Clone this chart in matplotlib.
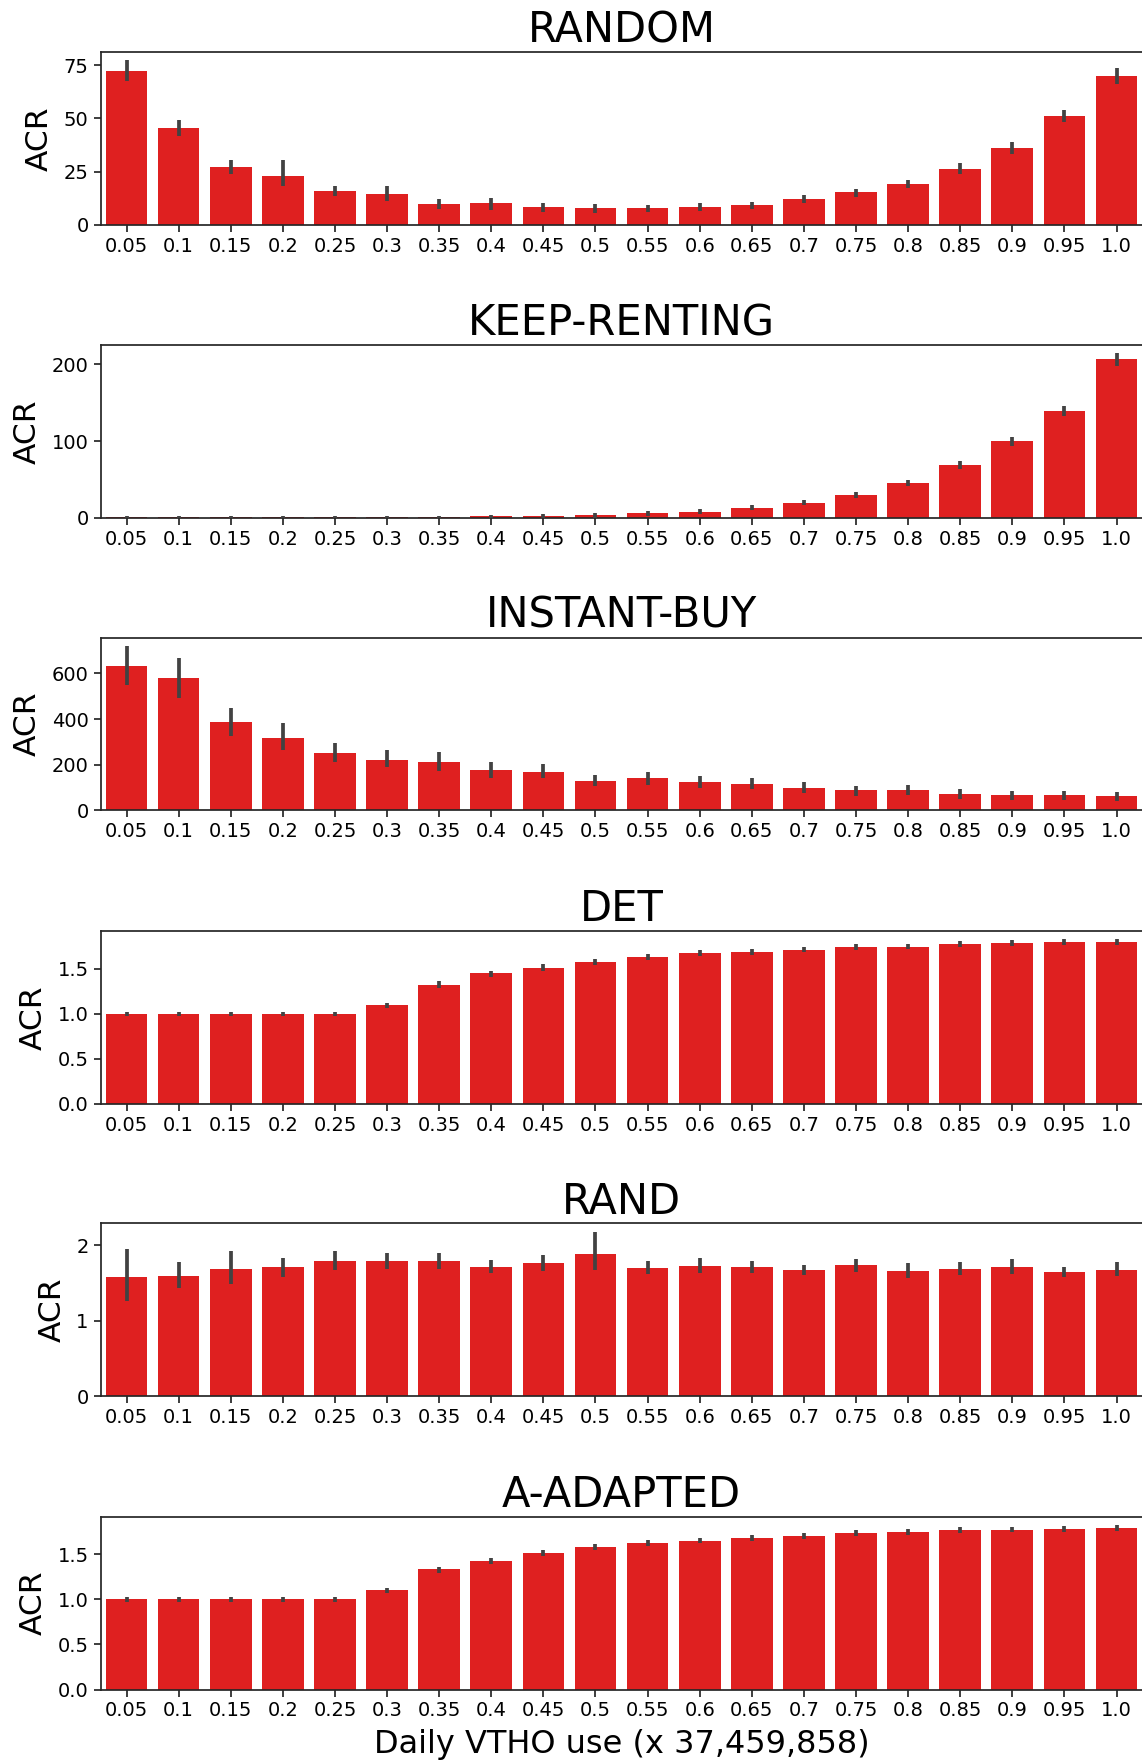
import matplotlib
matplotlib.use("Agg")
import matplotlib.pyplot as plt
import numpy as np

categories = ["0.05", "0.1", "0.15", "0.2", "0.25", "0.3", "0.35", "0.4", "0.45", "0.5",
              "0.55", "0.6", "0.65", "0.7", "0.75", "0.8", "0.85", "0.9", "0.95", "1.0"]

titles = ["RANDOM", "KEEP-RENTING", "INSTANT-BUY", "DET", "RAND", "A-ADAPTED"]

random_mean = [72.4, 45.4, 27.3, 23.1, 16.1, 14.7, 9.6, 10.1, 8.2, 7.75,
               7.75, 8.2, 9.1, 11.9, 15.2, 19.4, 26.4, 36.1, 51.0, 70.1]
random_lo = [67.6, 41.9, 23.9, 18.1, 13.5, 11.2, 7.3, 7.1, 6.2, 5.7,
             5.9, 6.5, 7.3, 10.1, 13.3, 17.4, 24.0, 33.3, 48.2, 66.2]
random_hi = [77.4, 49.3, 30.4, 30.4, 18.4, 18.4, 12.2, 12.7, 10.4, 9.6,
             9.3, 10.1, 10.9, 13.8, 16.9, 21.1, 29.0, 38.9, 54.1, 73.8]

keep_mean = [0.4, 0.4, 0.5, 0.5, 0.6, 0.7, 0.9, 1.7, 1.9, 3.0,
             6.0, 8.2, 13.3, 19.8, 30.1, 45.6, 68.8, 99.8, 139.8, 206.9]
keep_lo = [0.0, 0.0, 0.0, 0.0, 0.0, 0.0, 0.0, 0.0, 0.0, 0.3,
           1.9, 5.2, 9.9, 16.3, 26.2, 40.9, 64.1, 94.2, 132.5, 197.8]
keep_hi = [2.0, 2.0, 2.2, 2.2, 2.4, 2.5, 2.8, 4.3, 4.5, 6.5,
           8.6, 11.6, 16.8, 23.7, 33.5, 49.5, 73.5, 104.9, 145.8, 214.6]

instant_mean = [634, 578, 387, 318, 253, 222, 214, 175, 170, 131,
                140, 123, 118, 97, 88, 88, 71, 66, 66, 62]
instant_lo = [550, 491, 325, 264, 214, 189, 173, 144, 140, 107,
              111, 100, 92, 75, 65, 68, 49, 48, 46, 42]
instant_hi = [720, 667, 448, 384, 297, 264, 257, 212, 204, 157,
              169, 152, 143, 123, 108, 111, 92, 85, 84, 79]

det_mean = [1.0, 1.0, 1.0, 1.0, 1.0, 1.096, 1.324, 1.449, 1.515, 1.581,
            1.636, 1.68, 1.691, 1.713, 1.746, 1.746, 1.779, 1.79, 1.80, 1.80]
det_lo = [0.975, 0.975, 0.975, 0.975, 0.975, 1.066, 1.29, 1.41, 1.48, 1.544,
          1.60, 1.643, 1.658, 1.684, 1.71, 1.717, 1.743, 1.754, 1.768, 1.768]
det_hi = [1.025, 1.025, 1.025, 1.025, 1.025, 1.125, 1.36, 1.48, 1.55, 1.61,
          1.67, 1.71, 1.724, 1.746, 1.78, 1.78, 1.81, 1.82, 1.83, 1.83]

rand_mean = [1.576, 1.59, 1.681, 1.707, 1.786, 1.786, 1.786, 1.707, 1.76, 1.878,
             1.694, 1.72, 1.707, 1.668, 1.734, 1.655, 1.681, 1.707, 1.642, 1.668]
rand_lo = [1.262, 1.437, 1.48, 1.576, 1.672, 1.686, 1.68, 1.633, 1.66, 1.672,
           1.616, 1.629, 1.629, 1.603, 1.646, 1.568, 1.603, 1.62, 1.581, 1.59]
rand_hi = [1.948, 1.773, 1.917, 1.834, 1.917, 1.89, 1.89, 1.808, 1.873, 2.179,
           1.786, 1.83, 1.79, 1.734, 1.821, 1.76, 1.773, 1.821, 1.707, 1.782]

adapted_mean = [1.0, 1.0, 1.0, 1.0, 1.0, 1.099, 1.332, 1.43, 1.518, 1.584,
                1.628, 1.65, 1.683, 1.705, 1.738, 1.749, 1.771, 1.771, 1.782, 1.793]
adapted_lo = [0.973, 0.973, 0.973, 0.973, 0.973, 1.07, 1.295, 1.394, 1.482, 1.551,
              1.592, 1.621, 1.65, 1.672, 1.705, 1.712, 1.738, 1.742, 1.749, 1.76]
adapted_hi = [1.027, 1.027, 1.027, 1.027, 1.027, 1.128, 1.361, 1.46, 1.548, 1.617,
              1.657, 1.683, 1.716, 1.738, 1.767, 1.778, 1.804, 1.804, 1.811, 1.826]

series = [
    (random_mean, random_lo, random_hi),
    (keep_mean, keep_lo, keep_hi),
    (instant_mean, instant_lo, instant_hi),
    (det_mean, det_lo, det_hi),
    (rand_mean, rand_lo, rand_hi),
    (adapted_mean, adapted_lo, adapted_hi),
]
yticks = [
    [0, 25, 50, 75],
    [0, 100, 200],
    [0, 200, 400, 600],
    [0.0, 0.5, 1.0, 1.5],
    [0, 1, 2],
    [0.0, 0.5, 1.0, 1.5],
]
yticklabels = [
    ["0", "25", "50", "75"],
    ["0", "100", "200"],
    ["0", "200", "400", "600"],
    ["0.0", "0.5", "1.0", "1.5"],
    ["0", "1", "2"],
    ["0.0", "0.5", "1.0", "1.5"],
]

plt.rcParams['font.family'] = ['DejaVu Sans']
W, H = 1142, 1760
fig = plt.figure(figsize=(W / 100, H / 100), dpi=100)

tops = [52, 345, 637.7, 931, 1223.3, 1516.7]
ax_h = 172.8
left_px, right_px = 100.5, 1142.6

bar_color = '#df2020'
err_color = '#424242'
edge = '#262626'

x = np.arange(len(categories))
for i, (t, (m, lo, hi)) in enumerate(zip(titles, series)):
    bottom_px = tops[i] + ax_h
    ax = fig.add_axes([left_px / W, 1 - bottom_px / H, (right_px - left_px) / W, ax_h / H])
    ax.bar(x, m, width=0.8, color=bar_color, zorder=2)
    ax.vlines(x, lo, hi, color=err_color, linewidth=2.7, zorder=3)
    ax.set_xlim(-0.5, len(categories) - 0.5)
    ymax = max(hi) * 1.05
    ax.set_ylim(0, ymax)
    ax.set_yticks(yticks[i])
    ax.set_yticklabels(yticklabels[i])
    ax.set_xticks(x)
    ax.set_xticklabels(categories)
    ax.tick_params(axis='both', labelsize=14, colors=edge, labelcolor='black', width=1.25, length=5)
    for s in ax.spines.values():
        s.set_color(edge)
        s.set_linewidth(1.25)
    ax.set_title(t, fontsize=30, pad=7)
    ax.set_ylabel("ACR", fontsize=22.5, labelpad=7)
    if i == len(titles) - 1:
        ax.set_xlabel("Daily VTHO use (x 37,459,858)", fontsize=23, labelpad=6)

fig.savefig("out.png", dpi=100)
